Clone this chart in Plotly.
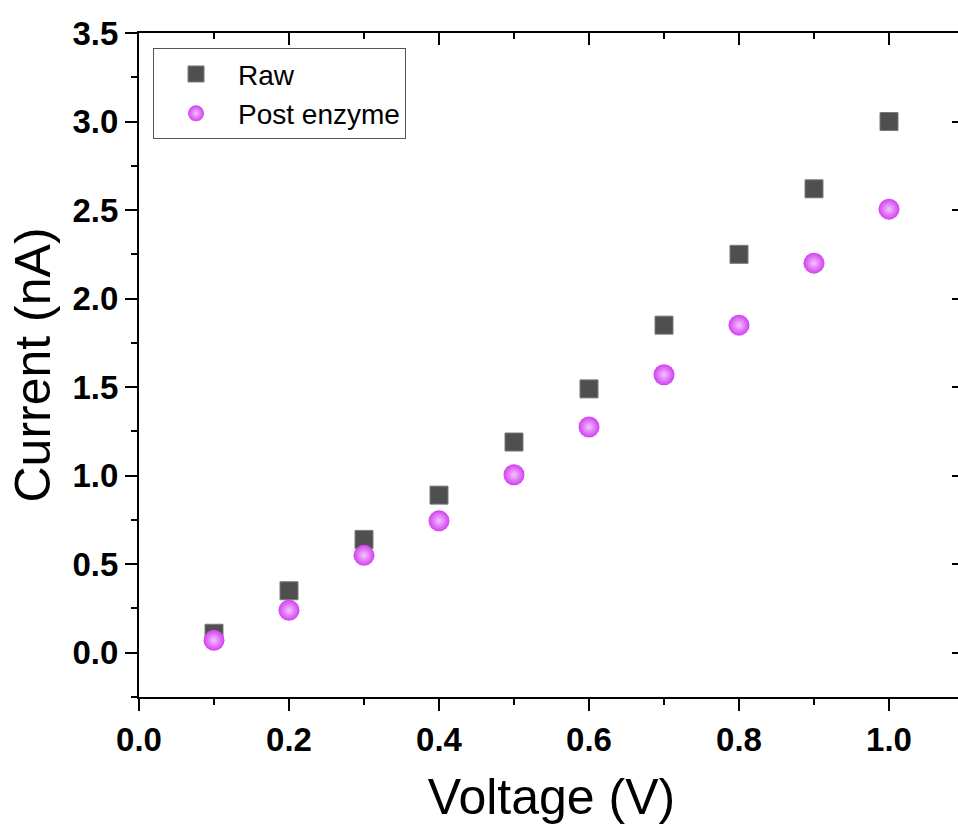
import plotly.graph_objects as go

voltage = [0.1, 0.2, 0.3, 0.4, 0.5, 0.6, 0.7, 0.8, 0.9, 1.0]
raw_current = [0.11, 0.35, 0.64, 0.89, 1.19, 1.49, 1.85, 2.25, 2.62, 3.00]
post_current = [0.07, 0.24, 0.55, 0.745, 1.005, 1.275, 1.57, 1.85, 2.20, 2.505]

FONT = "Liberation Sans, Arial, sans-serif"

fig = go.Figure()
fig.add_trace(go.Scatter(
    x=voltage, y=raw_current, mode="markers", name="Raw",
    marker=dict(symbol="square", size=18, color="#4f4f4f",
                line=dict(width=1, color="#7a7a7a")),
))
fig.add_trace(go.Scatter(
    x=voltage, y=post_current, mode="markers", name="Post enzyme",
    marker=dict(symbol="circle", size=21, color="#d23ff0",
                gradient=dict(type="radial", color="#f6c2ff"),
                line=dict(width=0)),
))
# invisible trace to anchor mirrored axes
fig.add_trace(go.Scatter(x=[None], y=[None], xaxis="x2", yaxis="y2",
                         showlegend=False, hoverinfo="skip"))

common = dict(showline=True, linewidth=2, linecolor="black", showgrid=False,
              zeroline=False, tickwidth=2, tickcolor="black", ticklen=12)

fig.update_layout(
    width=970, height=833,
    margin=dict(l=139, r=6, t=33, b=136),
    paper_bgcolor="white", plot_bgcolor="white",
    font=dict(family=FONT, color="black"),
    xaxis=dict(range=[0, 1.1], tick0=0, dtick=0.2, tickformat=".1f", ticks="outside",
               tickfont=dict(size=33, family=FONT, color="black", weight="bold"),
               minor=dict(dtick=0.1, ticks="outside", ticklen=6, tickwidth=2, tickcolor="black"),
               title=dict(text="Voltage (V)", font=dict(size=50, family=FONT), standoff=22),
               **common),
    yaxis=dict(range=[-0.25, 3.5], tick0=0, dtick=0.5, tickformat=".1f", ticks="outside",
               tickfont=dict(size=33, family=FONT, color="black", weight="bold"),
               minor=dict(dtick=0.25, ticks="outside", ticklen=6, tickwidth=2, tickcolor="black"),
               title=dict(text="Current (nA)", font=dict(size=50, family=FONT), standoff=6),
               **common),
    xaxis2=dict(range=[0, 1.1], overlaying="x", side="top", tick0=0, dtick=0.2, ticks="inside",
                showticklabels=False,
                minor=dict(dtick=0.1, ticks="inside", ticklen=6, tickwidth=2, tickcolor="black"),
                **common),
    yaxis2=dict(range=[-0.25, 3.5], overlaying="y", side="right", tick0=0, dtick=0.5, ticks="inside",
                showticklabels=False,
                minor=dict(dtick=0.25, ticks="inside", ticklen=6, tickwidth=2, tickcolor="black"),
                **common),
    legend=dict(x=0.017, y=0.977, xanchor="left", yanchor="top",
                bgcolor="white", bordercolor="#555555", borderwidth=1,
                font=dict(size=28, family=FONT, color="black"),
                itemwidth=74, itemsizing="trace"),
    showlegend=True,
)

fig.write_html("out.html",
               post_script="document.body.style.overflow='hidden';document.documentElement.style.overflow='hidden';document.body.style.margin='0';")
